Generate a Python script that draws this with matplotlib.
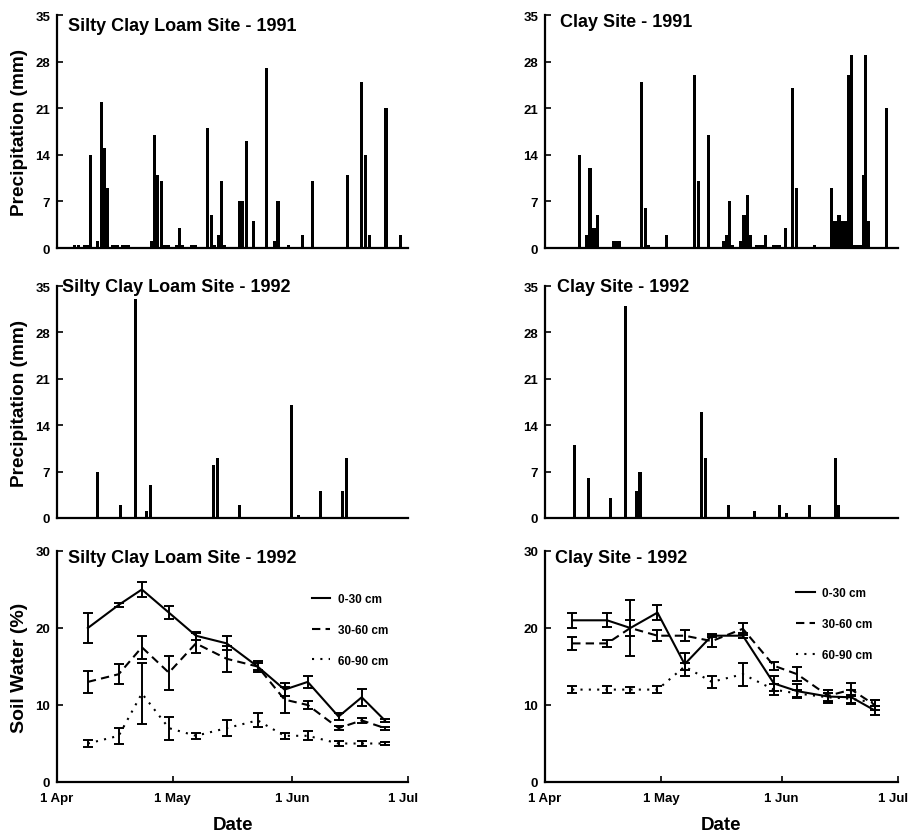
import matplotlib
matplotlib.use("Agg")
import matplotlib.pyplot as plt
import matplotlib.transforms as mtransforms

plt.rcParams['font.family'] = ['Liberation Sans', 'DejaVu Sans']
plt.rcParams['font.weight'] = 'bold'

# ---------------- data (x = days after 1 April) ----------------
slc91_days = [4.5, 5.5, 7.2, 8.0, 8.8, 10.6, 11.6, 12.4, 13.2, 14.3, 15.0, 15.7, 17.0, 17.8, 18.6,
              24.5, 25.3, 26.0, 27.0, 28.0, 28.8, 31.0, 31.7, 32.5, 35.0, 35.8, 39.0, 40.0, 40.8,
              41.9, 42.7, 43.5, 47.4, 48.2, 49.1, 50.9, 54.4, 56.4, 57.3, 60.0, 63.6, 66.3, 75.4,
              78.9, 79.9, 80.9, 85.3, 89.0]
slc91_prec = [0.5, 0.5, 0.5, 0.5, 14, 1, 22, 15, 9, 0.5, 0.5, 0.5, 0.5, 0.5, 0.5,
              1, 17, 11, 10, 0.5, 0.5, 0.5, 3, 0.5, 0.5, 0.5, 18, 5, 0.5,
              2, 10, 0.5, 7, 7, 16, 4, 27, 1, 7, 0.5, 2, 10, 11,
              25, 14, 2, 21, 2]

clay91_days = [8.8, 10.7, 11.6, 12.3, 12.9, 13.6, 17.8, 18.5, 19.1, 24.9, 25.8, 26.6, 31.3, 38.5,
               39.5, 42.2, 45.9, 46.8, 47.6, 48.4, 50.4, 51.3, 52.2, 53.0, 54.5, 55.2, 56.0, 56.8,
               59.0, 59.8, 60.5, 62.0, 63.8, 64.8, 69.4, 73.8, 74.6, 75.2, 75.8, 76.4, 77.0, 77.6,
               78.3, 79.1, 79.9, 80.6, 81.3, 82.0, 82.7, 83.5, 88.0]
clay91_prec = [14, 2, 12, 3, 3, 5, 1, 1, 1, 25, 6, 0.5, 2, 26,
               10, 17, 1, 2, 7, 0.5, 1, 5, 8, 2, 0.5, 0.5, 0.5, 2,
               0.5, 0.5, 0.5, 3, 24, 9, 0.5, 9, 4, 4, 5, 4, 4, 4,
               26, 29, 0.5, 0.5, 0.5, 11, 29, 4, 21]

slc92_days = [10.6, 16.5, 20.3, 23.2, 24.2, 40.6, 41.6, 47.4, 60.7, 62.6, 68.4, 74.0, 75.0]
slc92_prec = [7, 2, 33, 1, 5, 8, 9, 2, 17, 0.5, 4, 4, 9]

clay92_days = [7.5, 11.2, 16.9, 20.8, 23.6, 24.5, 40.4, 41.3, 47.2, 53.9, 60.5, 62.3, 68.2, 74.8, 75.6]
clay92_prec = [11, 6, 3, 32, 4, 7, 16, 9, 2, 1, 2, 0.7, 2, 9, 2]

slc_sw_days = [8, 16, 22, 29, 36, 44, 52, 59, 65, 73, 79, 85]
slc_0_30 = [20, 23, 25, 22, 19, 18, 15, 12, 13, 8.5, 11, 8]
slc_0_30_err = [1.9, 0.3, 1.0, 0.8, 0.5, 0.9, 0.7, 0.8, 0.8, 0.4, 1.1, 0.2]
slc_30_60 = [13, 14, 17.5, 14.2, 18, 16, 15, 10.7, 10, 7, 8, 7]
slc_30_60_err = [1.4, 1.3, 1.5, 2.2, 1.3, 1.7, 0.5, 1.7, 0.5, 0.3, 0.3, 0.2]
slc_60_90 = [5, 6, 11.5, 7, 6, 7, 8, 6, 6, 5, 5, 5]
slc_60_90_err = [0.5, 1.0, 4.0, 1.5, 0.4, 1.0, 0.9, 0.4, 0.6, 0.3, 0.3, 0.2]

clay_sw_days = [7, 16, 22, 29, 36, 43, 51, 59, 65, 73, 79, 85]
clay_0_30 = [21, 21, 20, 22, 15.3, 19, 19, 12.8, 11.8, 11.1, 11, 9.3]
clay_0_30_err = [1.0, 0.9, 3.6, 1.0, 1.5, 0.2, 0.3, 1.0, 0.9, 0.9, 0.9, 0.6]
clay_30_60 = [18, 18, 20, 19, 19, 18.3, 19.9, 15.1, 14, 11.2, 12, 10]
clay_30_60_err = [0.8, 0.5, 1.0, 0.7, 0.7, 0.8, 0.8, 0.5, 0.9, 0.8, 0.8, 0.6]
clay_60_90 = [12, 12, 12, 12, 15, 13, 14, 12, 11.5, 11, 10.8, 10.3]
clay_60_90_err = [0.5, 0.5, 0.4, 0.5, 0.5, 0.8, 1.5, 0.7, 0.5, 0.5, 0.5, 0.4]

date_ticks = [0, 30, 61, 91]
date_labels = ['1 Apr', '1 May', '1 Jun', '1 Jul']
precip_ticks = [0, 7, 14, 21, 28, 35]
sw_ticks = [0, 10, 20, 30]
depth_labels = ['0-30 cm', '30-60 cm', '60-90 cm']

# ---------------- figure ----------------
W, H = 910, 837
fig = plt.figure(figsize=(W / 100, H / 100), dpi=100)


def rect(x0, x1, ytop, ybot):
    return [x0 / W, 1 - ybot / H, (x1 - x0) / W, (ybot - ytop) / H]


LX = (57, 408)
RX = (545, 898)
rows = [(16, 249), (287, 519), (552, 783)]


def style(ax, yticks, ymax):
    for s in ('top', 'right'):
        ax.spines[s].set_visible(False)
    ax.spines['left'].set_linewidth(1.6)
    ax.spines['bottom'].set_linewidth(1.6)
    ax.set_xlim(0, 91)
    ax.set_ylim(0, ymax)
    ax.set_yticks(yticks)
    ax.tick_params(axis='y', direction='in', length=4, width=1.2, labelsize=9.5, pad=5)
    for lab in ax.get_yticklabels():
        lab.set_fontweight('bold')


def put_title(ax, title, fx, fy):
    ax.text(fx, fy, title, transform=ax.transAxes, fontsize=13,
            fontweight='bold', va='center', ha='left')


def precip(ax, days, vals, title, ylabel, fx, fy):
    ax.bar(days, vals, width=0.8, color='black', linewidth=0)
    style(ax, precip_ticks, 35)
    ax.set_xticks([])
    put_title(ax, title, fx, fy)
    if ylabel:
        ax.set_ylabel('Precipitation (mm)', fontsize=13.7, fontweight='bold', labelpad=5)


def soil(ax, days, series, errs, title, ylabel, fx, fy, legx, legy):
    styles = ['-', (0, (4, 2.5)), (0, (1, 3))]
    for vals, err, ls, lab in zip(series, errs, styles, depth_labels):
        ax.errorbar(days, vals, yerr=err, color='black', linestyle=ls, linewidth=1.5,
                    capsize=3.5, elinewidth=1.4, capthick=1.4, label=lab)
    style(ax, sw_ticks, 30)
    ax.set_xticks(date_ticks)
    ax.set_xticklabels(date_labels, fontweight='bold')
    ax.tick_params(axis='x', direction='in', length=4, width=1.2, labelsize=9.5, pad=7)
    last = ax.get_xticklabels()[-1]
    last.set_transform(last.get_transform() +
                       mtransforms.ScaledTranslation(-5 / 100, 0, fig.dpi_scale_trans))
    put_title(ax, title, fx, fy)
    ax.set_xlabel('Date', fontsize=13.5, fontweight='bold', labelpad=9)
    if ylabel:
        ax.set_ylabel('Soil Water (%)', fontsize=14, fontweight='bold', labelpad=5)
    handles, labels = ax.get_legend_handles_labels()
    handles = [h[0] for h in handles]
    ax.legend(handles, labels, loc='upper left', bbox_to_anchor=(legx, legy),
              frameon=False, handlelength=1.6, handletextpad=0.6, labelspacing=1.6,
              prop={'weight': 'bold', 'size': 8.5})


ax1 = fig.add_axes(rect(*LX, *rows[0]))
precip(ax1, slc91_days, slc91_prec, 'Silty Clay Loam Site - 1991', True, 0.031, 0.953)
ax2 = fig.add_axes(rect(*RX, *rows[0]))
precip(ax2, clay91_days, clay91_prec, 'Clay Site - 1991', False, 0.042, 0.974)
ax3 = fig.add_axes(rect(*LX, *rows[1]))
precip(ax3, slc92_days, slc92_prec, 'Silty Clay Loam Site - 1992', True, 0.014, 0.996)
ax4 = fig.add_axes(rect(*RX, *rows[1]))
precip(ax4, clay92_days, clay92_prec, 'Clay Site - 1992', False, 0.034, 1.0)
ax5 = fig.add_axes(rect(*LX, *rows[2]))
soil(ax5, slc_sw_days, [slc_0_30, slc_30_60, slc_60_90],
     [slc_0_30_err, slc_30_60_err, slc_60_90_err], 'Silty Clay Loam Site - 1992', True,
     0.031, 0.974, 0.695, 0.865)
ax6 = fig.add_axes(rect(*RX, *rows[2]))
soil(ax6, clay_sw_days, [clay_0_30, clay_30_60, clay_60_90],
     [clay_0_30_err, clay_30_60_err, clay_60_90_err], 'Clay Site - 1992', False,
     0.028, 0.974, 0.68, 0.89)

fig.savefig('out.png', dpi=100)
